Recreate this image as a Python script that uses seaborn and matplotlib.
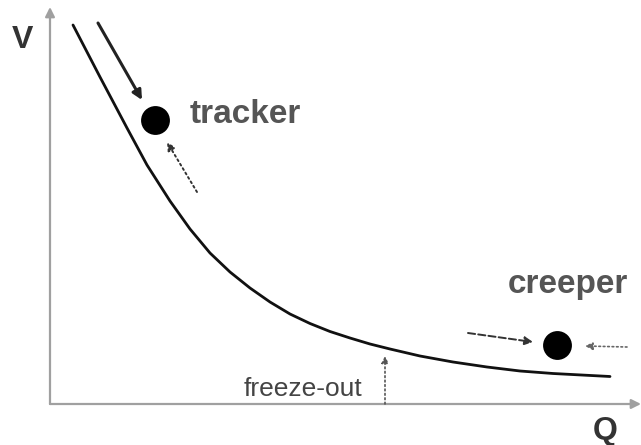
import matplotlib
matplotlib.use("Agg")
import matplotlib.pyplot as plt
import seaborn as sns
import pandas as pd

# potential V(Q) (origin at the axis corner)
curve_q = [23, 50, 77, 97, 120, 140, 160, 180, 200, 220, 240, 260, 280, 300, 320, 340, 370, 403, 437, 470, 503, 560]
curve_v = [379, 327, 276, 239, 203, 175, 151, 132, 116, 102, 90, 80.5, 72.5, 66, 60, 55, 48, 42, 37, 33, 30.5, 27.5]

# the two fields sitting on the potential
dot_names = ["tracker", "creeper"]
dot_q = [105, 507]
dot_v = [284, 59]

# freeze-out point on the Q axis
freeze_q = 335
freeze_v = 48

sns.set_theme(style="white")
plt.rcParams["font.family"] = ["Liberation Sans", "DejaVu Sans"]

fig = plt.figure(figsize=(6.41, 4.45), dpi=100)
ax = fig.add_axes([0, 0, 1, 1])
ax.set_xlim(-50, 591)
ax.set_ylim(-41, 404)
ax.axis("off")

# axes drawn as arrows
axis_col = "#a0a0a0"
ax.annotate("", xy=(591, 0), xytext=(0, 0),
            arrowprops=dict(arrowstyle="-|>", color=axis_col, lw=1.6,
                            mutation_scale=14, shrinkA=0, shrinkB=0))
ax.annotate("", xy=(0, 397), xytext=(0, 0),
            arrowprops=dict(arrowstyle="-|>", color=axis_col, lw=1.6,
                            mutation_scale=14, shrinkA=0, shrinkB=0))
ax.text(-28, 364, "V", fontsize=23, fontweight="bold", color="#333333", ha="center", va="center")
ax.text(555, -27, "Q", fontsize=23, fontweight="bold", color="#333333", ha="center", va="center")

curve = pd.DataFrame({"Q": curve_q, "V": curve_v})
sns.lineplot(data=curve, x="Q", y="V", ax=ax, color="#111111", lw=2.0, sort=False)

dots = pd.DataFrame({"name": dot_names, "Q": dot_q, "V": dot_v})
sns.scatterplot(data=dots, x="Q", y="V", ax=ax, color="black", s=370, edgecolor="black", zorder=5)

# tracker: rolls down along the curve, pushed back up by the dotted arrow
ax.text(140, 281, "tracker", fontsize=24, fontweight="bold", color="#555555",
        ha="left", va="baseline")
ax.annotate("", xy=(dot_q[0] - 13, dot_v[0] + 20), xytext=(dot_q[0] - 57, dot_v[0] + 97),
            arrowprops=dict(arrowstyle="-|>", color="#222222", lw=2.2, mutation_scale=14,
                            shrinkA=0, shrinkB=0))
ax.annotate("", xy=(dot_q[0] + 12, dot_v[0] - 22), xytext=(dot_q[0] + 42, dot_v[0] - 72),
            arrowprops=dict(arrowstyle="-|>", color="#333333", lw=1.4, ls=":", mutation_scale=12,
                            shrinkA=0, shrinkB=0))

# creeper: arrows on both sides
ax.text(458, 111, "creeper", fontsize=24, fontweight="bold", color="#555555",
        ha="left", va="baseline")
ax.annotate("", xy=(dot_q[1] - 24, dot_v[1] + 3), xytext=(dot_q[1] - 89, dot_v[1] + 12),
            arrowprops=dict(arrowstyle="-|>", color="#333333", lw=1.4, ls="--", mutation_scale=12,
                            shrinkA=0, shrinkB=0))
ax.annotate("", xy=(dot_q[1] + 28, dot_v[1] - 1), xytext=(dot_q[1] + 70, dot_v[1] - 2),
            arrowprops=dict(arrowstyle="-|>", color="#666666", lw=1.2, ls=":", mutation_scale=11,
                            shrinkA=0, shrinkB=0))

# freeze-out marker
ax.annotate("", xy=(freeze_q, freeze_v), xytext=(freeze_q, 0),
            arrowprops=dict(arrowstyle="-|>", color="#555555", lw=1.2, ls=":", mutation_scale=10,
                            shrinkA=0, shrinkB=0))
ax.text(freeze_q - 23, 8, "freeze-out", fontsize=19, color="#444444", ha="right", va="baseline")

fig.savefig("out.png", dpi=100)
